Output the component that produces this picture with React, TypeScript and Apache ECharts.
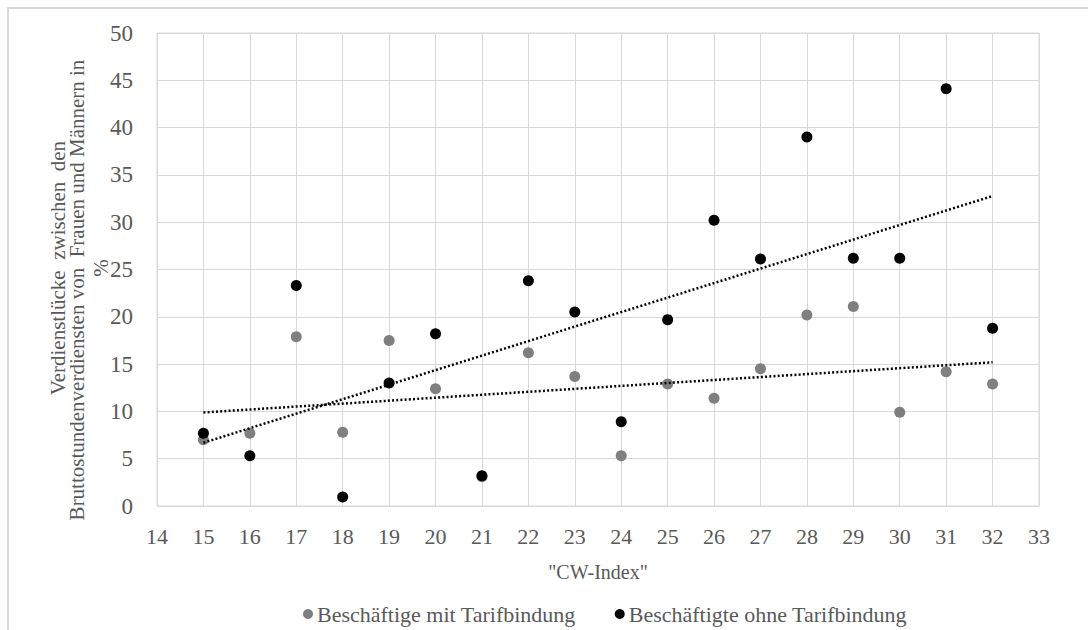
import React, { useEffect, useRef } from "react";
import * as echarts from "echarts";

const cwIndex = [15, 16, 17, 18, 19, 20, 21, 22, 23, 24, 25, 26, 27, 28, 29, 30, 31, 32];
const mitTarifbindung = [7.0, 7.7, 17.9, 7.8, 17.5, 12.4, 3.1, 16.2, 13.7, 5.3, 12.9, 11.4, 14.5, 20.2, 21.1, 9.9, 14.2, 12.9];
const ohneTarifbindung = [7.7, 5.3, 23.3, 0.95, 13.0, 18.2, 3.2, 23.8, 20.5, 8.9, 19.7, 30.2, 26.1, 39.0, 26.2, 26.2, 44.1, 18.8];
const seriesNames = ["Beschäftige mit Tarifbindung", "Beschäftigte ohne Tarifbindung"];
const yTitleLines = ["Verdienstlücke  zwischen  den", "Bruttostundenverdiensten von  Frauen und Männern in", "%"];
const xName = '"CW-Index"';

const FONT = "serif";
const TEXT = "#595959";
const GRID = "#d9d9d9";

function trend(xs: number[], ys: number[]): number[][] {
  const n = xs.length;
  const mx = xs.reduce((a, b) => a + b, 0) / n;
  const my = ys.reduce((a, b) => a + b, 0) / n;
  let sxy = 0, sxx = 0;
  for (let i = 0; i < n; i++) {
    sxy += (xs[i] - mx) * (ys[i] - my);
    sxx += (xs[i] - mx) * (xs[i] - mx);
  }
  const b = sxy / sxx;
  const a = my - b * mx;
  const x0 = Math.min(...xs), x1 = Math.max(...xs);
  return [[x0, a + b * x0], [x1, a + b * x1]];
}

function titleText(text: string, x: number, y: number) {
  return {
    type: "text",
    x,
    y,
    rotation: Math.PI / 2,
    silent: true,
    style: {
      text,
      fontFamily: FONT,
      fontSize: 21,
      fill: TEXT,
      align: "center",
      verticalAlign: "middle",
    },
  };
}

export default function App() {
  const ref = useRef<HTMLDivElement>(null);
  useEffect(() => {
    if (!ref.current) return;
    const chart = echarts.init(ref.current, null, { renderer: "svg" });
    const grayPts = cwIndex.map((x, i) => [x, mitTarifbindung[i]]);
    const blackPts = cwIndex.map((x, i) => [x, ohneTarifbindung[i]]);
    const trendStyle = { color: "#000", width: 2.5, type: [2, 2.2] as any, cap: "butt" as any, opacity: 1 };
    chart.setOption({
      animation: false,
      textStyle: { fontFamily: FONT },
      grid: { left: 157, top: 33, right: 49, bottom: 124, show: true, borderColor: GRID, borderWidth: 1 },
      xAxis: {
        type: "value",
        min: 14,
        max: 33,
        interval: 1,
        name: xName,
        nameLocation: "middle",
        nameGap: 56,
        nameTextStyle: { color: TEXT, fontSize: 20, fontFamily: FONT },
        axisLine: { show: true, lineStyle: { color: GRID } },
        axisTick: { show: false },
        axisLabel: { color: TEXT, fontSize: 22, fontFamily: FONT, margin: 19 },
        splitLine: { show: true, lineStyle: { color: GRID, width: 1 } },
      },
      yAxis: {
        type: "value",
        min: 0,
        max: 50,
        interval: 5,
        axisLine: { show: false },
        axisTick: { show: false },
        axisLabel: { color: TEXT, fontSize: 23, fontFamily: FONT, margin: 24 },
        splitLine: { show: true, lineStyle: { color: GRID, width: 1 } },
      },
      legend: {
        data: seriesNames,
        left: 298,
        top: 598,
        icon: "circle",
        itemWidth: 10,
        itemHeight: 10,
        itemGap: 39,
        textStyle: { color: TEXT, fontSize: 22, fontFamily: FONT, padding: [0, 0, 0, -1] },
      },
      graphic: [
        {
          type: "rect",
          silent: true,
          shape: { x: 8, y: 8, width: 1200, height: 1000 },
          style: { fill: "none", stroke: GRID, lineWidth: 2 },
        },
        titleText(yTitleLines[0], 58, 268),
        titleText(yTitleLines[1], 77, 290),
        titleText(yTitleLines[2], 101, 268),
      ],
      series: [
        {
          name: seriesNames[0],
          type: "scatter",
          data: grayPts,
          symbolSize: 11,
          itemStyle: { color: "#7f7f7f", opacity: 1 },
          z: 2,
        },
        {
          name: seriesNames[1],
          type: "scatter",
          data: blackPts,
          symbolSize: 11,
          itemStyle: { color: "#000000", opacity: 1 },
          z: 3,
        },
        {
          name: "trend1",
          type: "line",
          data: trend(cwIndex, mitTarifbindung),
          showSymbol: false,
          symbol: "none",
          lineStyle: trendStyle,
          z: 4,
          silent: true,
        },
        {
          name: "trend2",
          type: "line",
          data: trend(cwIndex, ohneTarifbindung),
          showSymbol: false,
          symbol: "none",
          lineStyle: trendStyle,
          z: 4,
          silent: true,
        },
      ],
    });
    return () => chart.dispose();
  }, []);
  return (
    <div
      ref={ref}
      style={{ position: "fixed", left: 0, top: 0, width: 1088, height: 630, background: "#fff" }}
    />
  );
}
